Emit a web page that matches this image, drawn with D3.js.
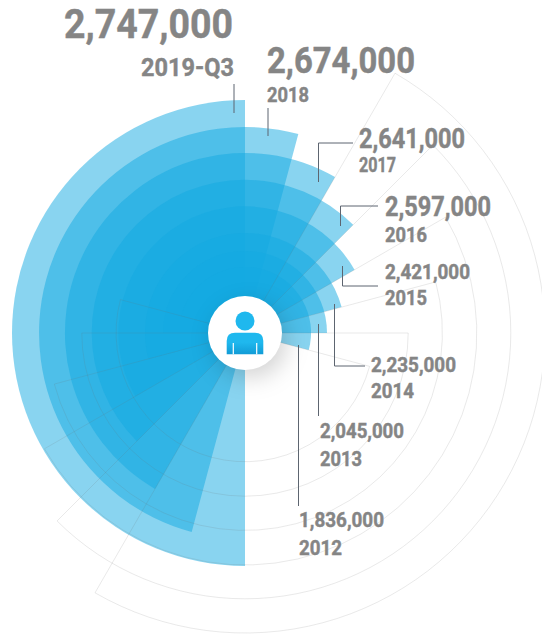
<!DOCTYPE html>
<html>
<head>
<meta charset="utf-8">
<title>Annual totals</title>
<script src="https://cdn.jsdelivr.net/npm/d3@7/dist/d3.min.js"></script>
<style>
  html, body { margin: 0; padding: 0; background: #fff; }
  svg { display: block; }
  text { font-family: Roboto, "DejaVu Sans", sans-serif; font-weight: 700; fill: #858585; stroke: #858585; stroke-width: 0.45px; }
</style>
</head>
<body>
<svg id="chart" width="542" height="636"></svg>
<script>
// Series, newest period first
const periods = ["2019-Q3", "2018", "2017", "2016", "2015", "2014", "2013", "2012"];
const totals = [2747000, 2674000, 2641000, 2597000, 2421000, 2235000, 2045000, 1836000];

// Radius assigned to each total: the rings are stepped by rank, not proportional
const ringRadii = [233, 206, 180, 153, 126.5, 100, 82, 66];

// Background fan levels
const gridLevels = [1, 2, 3, 4, 5, 6];

// Label placement: [value x, value baseline, value width, value size, period x, period baseline, period width, period size, anchor]
const labelLayout = [
  [233, 38, 169, 41, 234, 76, 93, 26.5, "end"],
  [267, 73, 148, 36, 267, 102, 42, 21, "start"],
  [359, 148, 106, 27, 359, 172, 37, 20, "start"],
  [385, 216, 106, 27, 385, 242, 42, 21, "start"],
  [385, 279, 85, 20.5, 385, 305, 42, 21, "start"],
  [371, 372, 85, 20.5, 371, 398, 43, 21, "start"],
  [320, 438, 84, 20.5, 320, 466, 42, 21, "start"],
  [299, 527, 85, 20.5, 299, 555, 43, 21, "start"]
];

// Leader lines from each label to its wedge
const leaderPaths = [
  [[234, 84], [234, 113]],
  [[268, 108], [268, 136]],
  [[353, 143], [318.5, 143], [318.5, 182]],
  [[378, 206], [340.5, 206], [340.5, 226]],
  [[378, 286], [342.5, 286], [342.5, 266]],
  [[365, 366], [334.5, 366], [334.5, 304]],
  [[318.5, 324], [318.5, 416]],
  [[298.5, 345], [298.5, 506]]
];

const center = { x: 245, y: 333 };
const deg = Math.PI / 180;
const format = d3.format(",");

const svg = d3.select("#chart");
const defs = svg.append("defs");
const bodyGrad = defs.append("linearGradient")
  .attr("id", "bodyFill").attr("x1", 0).attr("y1", 0).attr("x2", 0).attr("y2", 1);
bodyGrad.append("stop").attr("offset", "45%").attr("stop-color", "#1fb8ee");
bodyGrad.append("stop").attr("offset", "100%").attr("stop-color", "#119bd6");

const root = svg.append("g").attr("transform", `translate(${center.x},${center.y})`);

const radius = d3.scaleLinear().domain(totals.slice().reverse()).range(ringRadii.slice().reverse());
const fanStart = d3.scaleLinear().domain([0, periods.length - 1]).range([180, 285]);
const gridRadius = d3.scaleLinear().domain([1, 6]).range([129, 300]);
const gridEnd = d3.scaleLinear().domain([1, 6]).range([105, 30]);

const arc = d3.arc().innerRadius(0);

// Half-disc wedges, each rotated a further step clockwise
root.append("g").selectAll("path")
  .data(totals)
  .join("path")
  .attr("d", (d, i) => arc({
    outerRadius: radius(d),
    startAngle: fanStart(i) * deg,
    endAngle: (fanStart(i) + 180) * deg
  }))
  .attr("fill", "#14a9e1")
  .attr("fill-opacity", 0.5);

// Thin outlined half-discs behind the lower right
root.append("g").selectAll("path")
  .data(gridLevels)
  .join("path")
  .attr("d", d => arc({
    outerRadius: gridRadius(d),
    startAngle: gridEnd(d) * deg,
    endAngle: (gridEnd(d) + 180) * deg
  }))
  .attr("fill", "none")
  .attr("stroke", "rgb(110,110,110)")
  .attr("stroke-opacity", 0.15)
  .attr("stroke-width", 1);

// Leaders
const line = d3.line();
svg.append("g").selectAll("path")
  .data(leaderPaths)
  .join("path")
  .attr("d", line)
  .attr("fill", "none")
  .attr("stroke", "#5d6570")
  .attr("stroke-width", 1);

// Value and period labels
const labels = svg.append("g").selectAll("g")
  .data(totals)
  .join("g");

labels.append("text")
  .text(d => format(d))
  .attr("x", (d, i) => labelLayout[i][0])
  .attr("y", (d, i) => labelLayout[i][1])
  .attr("textLength", (d, i) => labelLayout[i][2])
  .attr("lengthAdjust", "spacingAndGlyphs")
  .attr("font-size", (d, i) => labelLayout[i][3])
  .attr("text-anchor", (d, i) => labelLayout[i][8]);

labels.append("text")
  .text((d, i) => periods[i])
  .attr("x", (d, i) => labelLayout[i][4])
  .attr("y", (d, i) => labelLayout[i][5])
  .attr("textLength", (d, i) => labelLayout[i][6])
  .attr("lengthAdjust", "spacingAndGlyphs")
  .attr("font-size", (d, i) => labelLayout[i][7])
  .attr("text-anchor", (d, i) => labelLayout[i][8]);

// Central badge with the person icon
const badge = svg.append("g").attr("transform", `translate(${center.x},${center.y})`);
badge.append("circle")
  .attr("r", 37)
  .attr("fill", "#fff")
  .style("filter", "drop-shadow(5px 8px 11px rgba(0,0,0,0.17))");
badge.append("circle")
  .attr("cy", -12)
  .attr("r", 9.5)
  .attr("fill", "#1fb8ee");
badge.append("path")
  .attr("d", "M-18.3,21.3 V8 Q-18.3,-0.3 -10,-0.3 H10 Q18.3,-0.3 18.3,8 V21.3 Z")
  .attr("fill", "url(#bodyFill)");
badge.selectAll("line.arm")
  .data([-11.7, 11.7])
  .join("line")
  .attr("class", "arm")
  .attr("x1", d => d).attr("x2", d => d)
  .attr("y1", 10).attr("y2", 21.3)
  .attr("stroke", "#fff")
  .attr("stroke-width", 1.2);
</script>
</body>
</html>
